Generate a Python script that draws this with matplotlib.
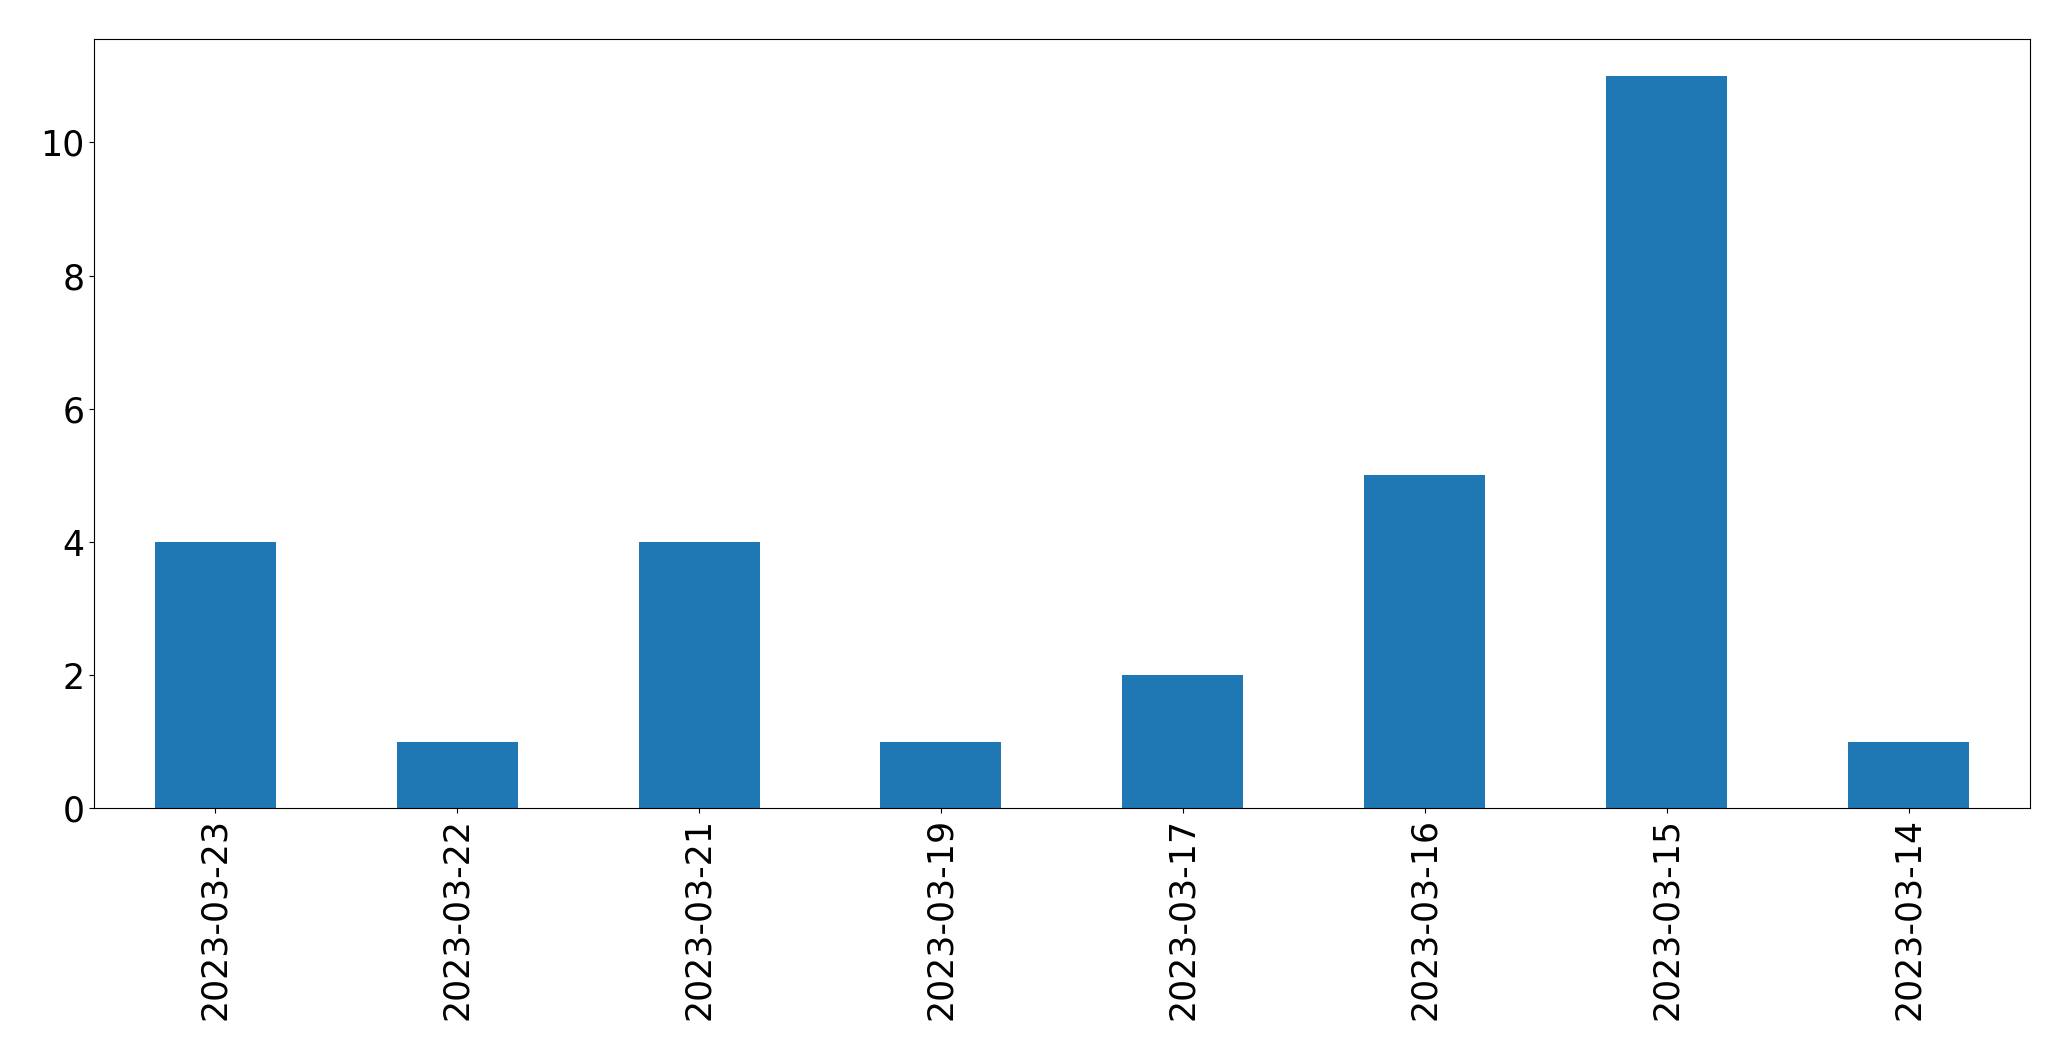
import matplotlib
matplotlib.use("Agg")
import matplotlib.pyplot as plt
import pandas as pd

# ── Data ──────────────────────────────────────────────────────────────────────
dates  = ["2023-03-23", "2023-03-22", "2023-03-21", "2023-03-19",
          "2023-03-17", "2023-03-16", "2023-03-15", "2023-03-14"]
counts = [4, 1, 4, 1, 2, 5, 11, 1]

s = pd.Series(counts, index=dates)

# ── Plot ──────────────────────────────────────────────────────────────────────
fig, ax = plt.subplots(figsize=(20.71, 10.61), dpi=100)
s.plot(kind="bar", ax=ax, color="#1f77b4")
ax.tick_params(axis="both", labelsize=25)
fig.subplots_adjust(left=0.0455, right=0.980, top=0.963, bottom=0.238)

plt.savefig("out.png", dpi=100)
